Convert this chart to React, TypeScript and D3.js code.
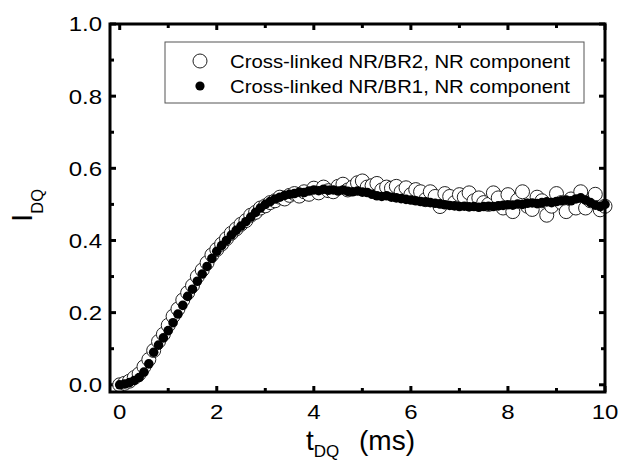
import React, { useRef, useEffect } from 'react';
import * as d3 from 'd3';

// t_DQ grid (ms), shared by both series
const tDQ = [
  0.0, 0.1, 0.2, 0.3, 0.4, 0.5, 0.6, 0.7, 0.8, 0.9,
  1.0, 1.1, 1.2, 1.3, 1.4, 1.5, 1.6, 1.7, 1.8, 1.9,
  2.0, 2.1, 2.2, 2.3, 2.4, 2.5, 2.6, 2.7, 2.8, 2.9,
  3.0, 3.1, 3.2, 3.3, 3.4, 3.5, 3.6, 3.7, 3.8, 3.9,
  4.0, 4.1, 4.2, 4.3, 4.4, 4.5, 4.6, 4.7, 4.8, 4.9,
  5.0, 5.1, 5.2, 5.3, 5.4, 5.5, 5.6, 5.7, 5.8, 5.9,
  6.0, 6.1, 6.2, 6.3, 6.4, 6.5, 6.6, 6.7, 6.8, 6.9,
  7.0, 7.1, 7.2, 7.3, 7.4, 7.5, 7.6, 7.7, 7.8, 7.9,
  8.0, 8.1, 8.2, 8.3, 8.4, 8.5, 8.6, 8.7, 8.8, 8.9,
  9.0, 9.1, 9.2, 9.3, 9.4, 9.5, 9.6, 9.7, 9.8, 9.9,
  10.0,
];

// Cross-linked NR/BR2, NR component (open circles)
const br2 = [
  0.000, 0.004, 0.010, 0.020, 0.030, 0.050, 0.070, 0.095, 0.120, 0.140,
  0.165, 0.190, 0.210, 0.235, 0.255, 0.275, 0.300, 0.318, 0.338, 0.360,
  0.375, 0.390, 0.405, 0.420, 0.432, 0.445, 0.455, 0.470, 0.478, 0.490,
  0.496, 0.505, 0.510, 0.520, 0.515, 0.525, 0.530, 0.523, 0.535, 0.528,
  0.545, 0.532, 0.548, 0.538, 0.535, 0.550, 0.556, 0.540, 0.548, 0.560,
  0.565, 0.548, 0.552, 0.558, 0.540, 0.548, 0.545, 0.550, 0.535, 0.546,
  0.527, 0.541, 0.535, 0.513, 0.535, 0.522, 0.494, 0.530, 0.522, 0.505,
  0.527, 0.520, 0.532, 0.510, 0.518, 0.505, 0.500, 0.532, 0.518, 0.490,
  0.527, 0.480, 0.512, 0.535, 0.495, 0.486, 0.520, 0.510, 0.470, 0.495,
  0.530, 0.505, 0.480, 0.515, 0.490, 0.535, 0.490, 0.510, 0.528, 0.485,
  0.495,
];

// Cross-linked NR/BR1, NR component (filled circles)
const br1 = [
  0.000, 0.002, 0.006, 0.012, 0.020, 0.035, 0.058, 0.090, 0.110, 0.130,
  0.150, 0.172, 0.196, 0.220, 0.245, 0.265, 0.287, 0.307, 0.328, 0.350,
  0.370, 0.386, 0.400, 0.415, 0.428, 0.440, 0.452, 0.465, 0.478, 0.490,
  0.500, 0.508, 0.515, 0.520, 0.525, 0.528, 0.530, 0.534, 0.533, 0.537,
  0.540, 0.538, 0.542, 0.539, 0.540, 0.537, 0.540, 0.536, 0.535, 0.537,
  0.534, 0.533, 0.528, 0.524, 0.522, 0.524, 0.520, 0.518, 0.516, 0.514,
  0.512, 0.510, 0.508, 0.507, 0.505, 0.503, 0.501, 0.499, 0.497, 0.496,
  0.494, 0.495, 0.493, 0.494, 0.492, 0.494, 0.495, 0.494, 0.496, 0.497,
  0.499, 0.498, 0.501, 0.500, 0.503, 0.504, 0.502, 0.505, 0.507, 0.505,
  0.508, 0.510, 0.512, 0.510, 0.515, 0.518, 0.512, 0.505, 0.498, 0.494,
  0.500,
];

const xTicks = [0, 2, 4, 6, 8, 10];
const yTicks = [0.0, 0.2, 0.4, 0.6, 0.8, 1.0];
const legendLabels = [
  'Cross-linked NR/BR2, NR component',
  'Cross-linked NR/BR1, NR component',
];

const App = () => {
  const svgRef = useRef(null);
  const width = 619;
  const height = 462;
  const margin = { top: 24, right: 14, bottom: 70, left: 110 };
  const font = 'Arial, "Liberation Sans", sans-serif';

  useEffect(() => {
    d3.select(svgRef.current).selectAll('*').remove();
    const svg = d3.select(svgRef.current);

    const x = d3.scaleLinear().domain([-0.2, 10]).range([margin.left, width - margin.right]);
    const y = d3.scaleLinear().domain([-0.02, 1.0]).range([height - margin.bottom, margin.top]);

    const x0 = margin.left, x1 = width - margin.right;
    const y0 = height - margin.bottom, y1 = margin.top;

    // ticks, inward on all four sides
    const xMinor = [1, 3, 5, 7, 9];
    const yMinor = [0.1, 0.3, 0.5, 0.7, 0.9];
    const tickG = svg.append('g').attr('stroke', '#000').attr('stroke-width', 3);
    const major = 6, minor = 4;
    xTicks.concat(xMinor).forEach(t => {
      const len = xTicks.includes(t) ? major : minor;
      tickG.append('line').attr('x1', x(t)).attr('x2', x(t)).attr('y1', y0).attr('y2', y0 - len);
      tickG.append('line').attr('x1', x(t)).attr('x2', x(t)).attr('y1', y1).attr('y2', y1 + len);
    });
    yTicks.concat(yMinor).forEach(v => {
      const len = yTicks.includes(v) ? major : minor;
      tickG.append('line').attr('y1', y(v)).attr('y2', y(v)).attr('x1', x0).attr('x2', x0 + len);
      tickG.append('line').attr('y1', y(v)).attr('y2', y(v)).attr('x1', x1).attr('x2', x1 - len);
    });

    // open circles first, filled on top
    svg.append('g')
      .selectAll('circle')
      .data(tDQ.map((t, i) => ({ t, v: br2[i] })))
      .join('circle')
      .attr('cx', d => x(d.t))
      .attr('cy', d => y(d.v))
      .attr('r', 7)
      .attr('fill', '#fff')
      .attr('stroke', '#222')
      .attr('stroke-width', 1);

    svg.append('g')
      .selectAll('circle')
      .data(tDQ.map((t, i) => ({ t, v: br1[i] })))
      .join('circle')
      .attr('cx', d => x(d.t))
      .attr('cy', d => y(d.v))
      .attr('r', 4.8)
      .attr('fill', '#000');

    // frame
    svg.append('rect')
      .attr('x', x0).attr('y', y1)
      .attr('width', x1 - x0).attr('height', y0 - y1)
      .attr('fill', 'none').attr('stroke', '#000').attr('stroke-width', 3);

    // tick labels (the original is a bit stretched horizontally)
    svg.append('g').selectAll('text')
      .data(xTicks)
      .join('text')
      .attr('transform', d => `translate(${x(d)},${y0 + 27}) scale(1.17,1)`)
      .attr('text-anchor', 'middle')
      .attr('font-family', font)
      .attr('font-size', 20.5)
      .text(d => d);

    svg.append('g').selectAll('text')
      .data(yTicks)
      .join('text')
      .attr('transform', d => `translate(${x0 - 8},${y(d)}) scale(1.17,1)`)
      .attr('dy', '0.36em')
      .attr('text-anchor', 'end')
      .attr('font-family', font)
      .attr('font-size', 20.5)
      .text(d => d.toFixed(1));

    // axis titles
    const xt = svg.append('text')
      .attr('x', 306)
      .attr('y', 450)
      .attr('font-family', font)
      .attr('font-size', 28);
    xt.append('tspan').text('t');
    xt.append('tspan').attr('font-size', 17).attr('dy', 7).text('DQ');
    svg.append('text')
      .attr('x', 359)
      .attr('y', 450)
      .attr('font-family', font)
      .attr('font-size', 28)
      .text('(ms)');

    const yt = svg.append('text')
      .attr('transform', 'translate(32,222) rotate(-90)')
      .attr('font-family', font)
      .attr('font-size', 30);
    yt.append('tspan').text('I');
    yt.append('tspan').attr('font-size', 16.5).attr('dy', 11).text('DQ');

    // legend
    const lg = svg.append('g');
    lg.append('rect')
      .attr('x', 165).attr('y', 42)
      .attr('width', 419).attr('height', 61)
      .attr('fill', '#fff').attr('stroke', '#555').attr('stroke-width', 1);
    legendLabels.forEach((label, i) => {
      const cy = 61 + i * 25;
      lg.append('circle')
        .attr('cx', 200).attr('cy', cy)
        .attr('r', i === 0 ? 7 : 4.6)
        .attr('fill', i === 0 ? '#fff' : '#000')
        .attr('stroke', i === 0 ? '#222' : 'none')
        .attr('stroke-width', 1);
      lg.append('text')
        .attr('x', 230).attr('y', cy)
        .attr('dy', '0.36em')
        .attr('font-family', font)
        .attr('font-size', 18.5)
        .attr('textLength', 340)
        .attr('lengthAdjust', 'spacingAndGlyphs')
        .text(label);
    });
  }, []);

  return (
    <div>
      <svg
        ref={svgRef}
        width={width}
        height={height}
        style={{ position: 'absolute', left: 0, top: 0, background: '#fff' }}
      />
    </div>
  );
};

export default App;
